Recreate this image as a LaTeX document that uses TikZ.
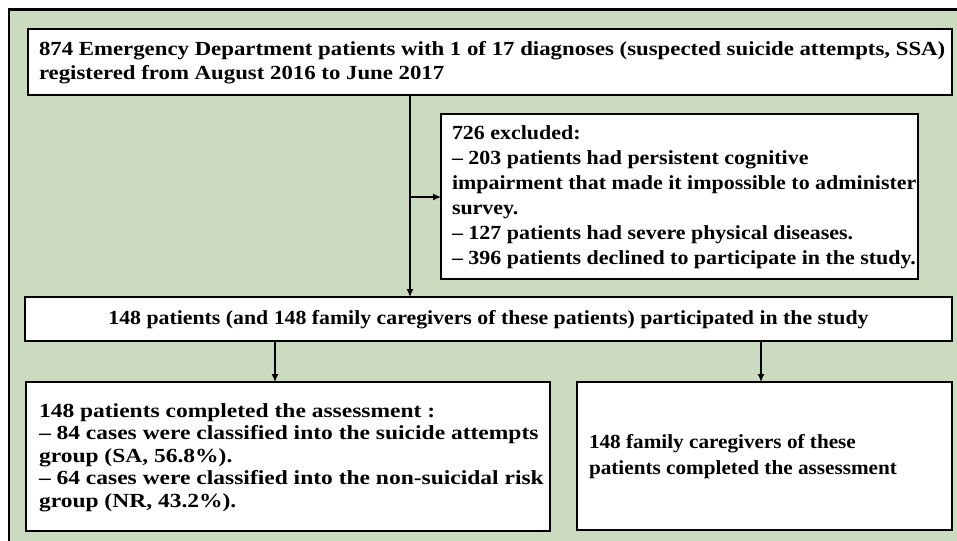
\documentclass[tikz,border=0pt]{standalone}
\usepackage{fontspec}
\setmainfont{Liberation Serif}
\newfontfamily\fTop[FakeStretch=1.14]{Liberation Serif}
\newfontfamily\fExc[FakeStretch=1.097]{Liberation Serif}
\newfontfamily\fMid[FakeStretch=1.09]{Liberation Serif}
\newfontfamily\fBl[FakeStretch=1.175]{Liberation Serif}
\newfontfamily\fBr[FakeStretch=1.06]{Liberation Serif}
\usetikzlibrary{arrows.meta}
\definecolor{bggreen}{RGB}{202,219,191}
\tikzset{
  box/.style={draw=black, line width=2pt, fill=white, inner sep=0pt, outer sep=0pt},
  txt/.style={inner sep=0pt, outer sep=0pt, align=left},
  arr/.style={line width=1.4pt, -{Latex[length=8pt,width=7pt]}},
}
\begin{document}
\begin{tikzpicture}[x=1pt,y=-1pt]
\useasboundingbox (0,0) rectangle (957,540);
\fill[white] (0,0) rectangle (957,540);
\fill[bggreen] (9,9.5) rectangle (960,545);
\draw[line width=2.5pt] (9,545) -- (9,9.5) -- (960,9.5);

% boxes
\node[box, minimum width=924pt, minimum height=66pt] (top) at (490,62) {};
\node[box, minimum width=477pt, minimum height=165pt] (excl) at (679.5,196.5) {};
\node[box, minimum width=927pt, minimum height=44pt] (mid) at (488.5,319) {};
\node[box, minimum width=524pt, minimum height=149pt] (bl) at (288,456.5) {};
\node[box, minimum width=375pt, minimum height=148pt] (br) at (764.5,456) {};

% texts
\node[txt, anchor=west, font=\fTop\bfseries\fontsize{20}{24}\selectfont] (toptxt) at ([xshift=11pt,yshift=-1pt]top.west)
  {874 Emergency Department patients with 1 of 17 diagnoses (suspected suicide attempts, SSA)\\
   registered from August 2016 to June 2017};
\node[txt, anchor=west, font=\fExc\bfseries\fontsize{20}{25}\selectfont] (excltxt) at ([xshift=11pt,yshift=-1pt]excl.west)
  {726 excluded:\\
   – 203 patients had persistent cognitive\\
   impairment that made it impossible to administer\\
   survey.\\
   – 127 patients had severe physical diseases.\\
   – 396 patients declined to participate in the study.};
\node[txt, anchor=center, font=\fMid\bfseries\fontsize{20}{24}\selectfont] (midtxt) at ([yshift=-1pt]mid.center)
  {148 patients (and 148 family caregivers of these patients) participated in the study};
\node[txt, anchor=west, font=\fBl\bfseries\fontsize{20}{22.5}\selectfont] (bltxt) at ([xshift=13pt,yshift=-1pt]bl.west)
  {148 patients completed the assessment :\\
   – 84 cases were classified into the suicide attempts\\
   group (SA, 56.8\%).\\
   – 64 cases were classified into the non-suicidal risk\\
   group (NR, 43.2\%).};
\node[txt, anchor=west, font=\fBr\bfseries\fontsize{20}{26}\selectfont] (brtxt) at ([xshift=12pt,yshift=-1pt]br.west)
  {148 family caregivers of these\\
   patients completed the assessment};

% connectors
\coordinate (j) at (410,197);
\coordinate (a1) at (275,0);
\coordinate (a2) at (761,0);
\draw[arr] (top.south -| j) -- (mid.north -| j);
\draw[arr] (j) -- (excl.west |- j);
\draw[arr] (mid.south -| a1) -- (bl.north -| a1);
\draw[arr] (mid.south -| a2) -- (br.north -| a2);
\end{tikzpicture}
\end{document}
